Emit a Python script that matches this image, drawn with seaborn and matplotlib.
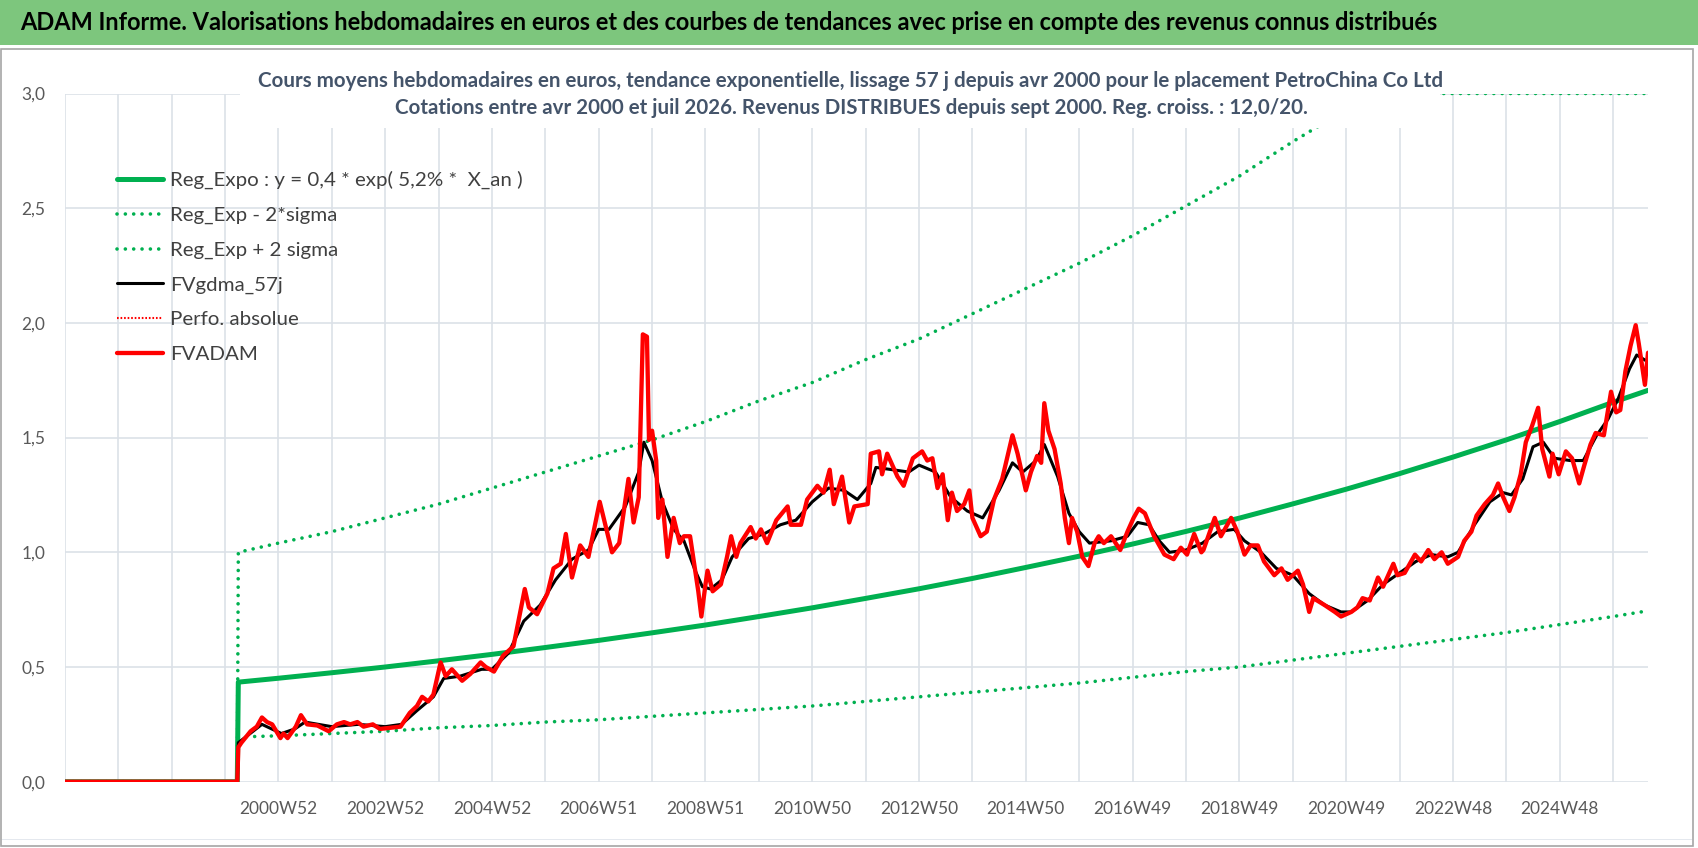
import matplotlib
matplotlib.use("Agg")
import matplotlib.pyplot as plt
from matplotlib.patches import Rectangle
import seaborn as sns

# semaines comptées depuis le début de l'axe (1997W01 = 0)
semaines_fv = [0, 168, 169, 172, 181, 187, 192, 197, 202, 210, 213, 217, 225, 230, 236, 246, 257, 265, 272, 278,
               285, 291, 300, 307, 317, 327, 336, 343, 348, 354, 359, 366, 371, 377, 387, 395, 405, 410, 418, 427,
               437, 444, 448, 452, 460, 470, 476, 483, 488, 494, 502, 510, 521, 527, 533, 540, 549, 554, 559, 563,
               567, 569, 572, 576, 578, 582, 587, 593, 599, 603, 609, 613, 617, 620, 624, 626, 631, 639, 645, 649,
               654, 658, 668, 673, 678, 684, 693, 704, 707, 717, 723, 733, 739, 745, 749, 757, 764, 769, 782, 785,
               793, 796, 801, 811, 817, 826, 835, 840, 845, 850, 855, 860, 864, 869, 876, 881, 884, 892, 898, 905,
               913, 923, 928, 936, 941, 947, 951, 954, 958, 964, 970, 974, 978, 981, 986, 991, 997, 1003, 1007, 1012,
               1019, 1028, 1035, 1041, 1046, 1052, 1061, 1071, 1080, 1087, 1093, 1100, 1107, 1109, 1120, 1126, 1136,
               1142, 1149, 1155, 1162, 1168, 1178, 1185, 1191, 1201, 1206, 1212, 1216, 1227, 1237, 1243, 1253, 1259,
               1264, 1271, 1279, 1284, 1294, 1298, 1305, 1315, 1321, 1328, 1334, 1341, 1347, 1357, 1363, 1370, 1375,
               1383, 1391, 1396, 1401, 1407, 1412, 1418, 1423, 1429, 1435, 1439, 1446, 1449, 1455, 1462, 1468, 1475,
               1480, 1486, 1491, 1499, 1506, 1511, 1515, 1520, 1525, 1530, 1533, 1539, 1542]
fvadam = [0, 0, 0.15, 0.17, 0.22, 0.24, 0.28, 0.26, 0.25, 0.19, 0.21, 0.19, 0.24, 0.29, 0.25, 0.245, 0.22, 0.25, 0.26, 0.25,
          0.26, 0.24, 0.25, 0.23, 0.235, 0.24, 0.30, 0.33, 0.37, 0.35, 0.38, 0.52, 0.46, 0.49, 0.44, 0.47, 0.52, 0.50, 0.48, 0.55,
          0.59, 0.75, 0.84, 0.76, 0.73, 0.82, 0.93, 0.95, 1.08, 0.89, 1.03, 0.98, 1.22, 1.11, 1.00, 1.04, 1.32, 1.13, 1.24, 1.95,
          1.94, 1.49, 1.53, 1.40, 1.15, 1.23, 0.98, 1.15, 1.04, 1.07, 1.07, 0.95, 0.83, 0.72, 0.86, 0.92, 0.83, 0.86, 0.98, 1.07,
          0.98, 1.04, 1.11, 1.06, 1.10, 1.04, 1.14, 1.20, 1.12, 1.12, 1.23, 1.29, 1.26, 1.36, 1.21, 1.33, 1.13, 1.20, 1.21, 1.43,
          1.44, 1.34, 1.43, 1.33, 1.29, 1.41, 1.44, 1.40, 1.41, 1.28, 1.34, 1.14, 1.26, 1.18, 1.21, 1.27, 1.15, 1.07, 1.09, 1.23,
          1.32, 1.51, 1.43, 1.27, 1.35, 1.42, 1.39, 1.65, 1.53, 1.45, 1.30, 1.15, 1.04, 1.15, 1.09, 0.98, 0.94, 1.04, 1.07, 1.04,
          1.07, 1.01, 1.09, 1.15, 1.19, 1.17, 1.07, 0.99, 0.97, 1.02, 0.99, 1.08, 1.00, 1.01, 1.15, 1.07, 1.15,
          1.09, 0.99, 1.03, 1.03, 0.96, 0.90, 0.93, 0.88, 0.92, 0.86, 0.74, 0.80, 0.77, 0.74, 0.72, 0.74, 0.76,
          0.80, 0.79, 0.89, 0.85, 0.95, 0.90, 0.91, 0.99, 0.96, 1.01, 0.97, 1.00, 0.95, 0.98, 1.05, 1.09, 1.16,
          1.21, 1.25, 1.30, 1.24, 1.18, 1.24, 1.34, 1.48, 1.55, 1.63, 1.45, 1.33, 1.43, 1.34, 1.44, 1.41, 1.30,
          1.38, 1.47, 1.52, 1.51, 1.70, 1.61, 1.62, 1.79, 1.90, 1.99, 1.91, 1.73, 1.87]

semaines_gdma = [0, 168, 169, 192, 211, 224, 234, 260, 286, 312, 328, 343, 359, 369, 385, 406, 416, 432, 447, 463,
                 478, 494, 510, 520, 530, 546, 559, 564, 572, 582, 593, 603, 614, 621, 629, 640, 650, 666, 681, 697,
                 712, 728, 744, 759, 772, 785, 790, 806, 822, 832, 848, 863, 879, 894, 910, 923, 933, 946, 954, 967,
                 978, 988, 998, 1019, 1035, 1045, 1056, 1066, 1076, 1092, 1108, 1123, 1139, 1149, 1165, 1180, 1196,
                 1212, 1227, 1243, 1253, 1269, 1284, 1300, 1316, 1331, 1347, 1357, 1373, 1388, 1401, 1409, 1420, 1430,
                 1440, 1451, 1466, 1479, 1492, 1503, 1513, 1524, 1531, 1542]
fvgdma = [0, 0, 0.17, 0.25, 0.21, 0.23, 0.26, 0.24, 0.25, 0.24, 0.25, 0.31, 0.37, 0.45, 0.46, 0.49, 0.49, 0.56, 0.70, 0.77,
          0.88, 0.97, 1.01, 1.10, 1.10, 1.20, 1.35, 1.48, 1.40, 1.22, 1.10, 1.05, 0.92, 0.85, 0.84, 0.88, 0.98, 1.06, 1.08, 1.12,
          1.14, 1.22, 1.28, 1.27, 1.23, 1.30, 1.37, 1.36, 1.35, 1.38, 1.35, 1.24, 1.18, 1.15, 1.27, 1.39, 1.35, 1.40, 1.47, 1.33,
          1.17, 1.09, 1.04, 1.05, 1.07, 1.13, 1.12, 1.05, 1.00, 1.01, 1.04, 1.09, 1.10, 1.05, 1.00, 0.93, 0.90,
          0.82, 0.77, 0.74, 0.74, 0.79, 0.86, 0.91, 0.96, 0.99, 0.98, 1.00, 1.12, 1.22, 1.26, 1.25, 1.32, 1.46,
          1.48, 1.41, 1.40, 1.40, 1.51, 1.58, 1.67, 1.80, 1.86, 1.83]

semaines_reg = [0, 168, 169, 208, 260, 312, 364, 416, 468, 520, 572, 624, 676, 728, 780, 832, 884, 936, 988, 1040,
                1092, 1144, 1196, 1248, 1300, 1352, 1404, 1456, 1508, 1542]
reg_expo = [0, 0, 0.434, 0.451, 0.475, 0.500, 0.527, 0.555, 0.585, 0.616, 0.649, 0.683, 0.720, 0.758, 0.799, 0.841,
            0.886, 0.934, 0.983, 1.036, 1.091, 1.149, 1.211, 1.275, 1.343, 1.415, 1.490, 1.570, 1.654, 1.706]
reg_moins = [0, 0, 0.195, 0.200, 0.210, 0.220, 0.235, 0.245, 0.260, 0.270, 0.285, 0.300, 0.315, 0.330, 0.350, 0.370,
             0.390, 0.410, 0.430, 0.455, 0.480, 0.500, 0.530, 0.560, 0.590, 0.620, 0.650, 0.685, 0.720, 0.745]
reg_plus = [0, 0, 1.00, 1.04, 1.09, 1.15, 1.21, 1.28, 1.35, 1.42, 1.49, 1.57, 1.66, 1.74, 1.84, 1.93,
            2.04, 2.15, 2.26, 2.38, 2.51, 2.64, 2.79, 2.93, 3.0, 3.0, 3.0, 3.0, 3.0, 3.0]

x_labels = ["2000W52", "2002W52", "2004W52", "2006W51", "2008W51", "2010W50", "2012W50",
            "2014W50", "2016W49", "2018W49", "2020W49", "2022W48", "2024W48"]
y_labels = ["0,0", "0,5", "1,0", "1,5", "2,0", "2,5", "3,0"]

titre = ("ADAM Informe. Valorisations hebdomadaires en euros et des courbes de tendances "
         "avec prise en compte des revenus connus distribués")
sous_titre_1 = ("Cours moyens hebdomadaires en euros, tendance exponentielle, lissage 57 j depuis avr 2000 "
                "pour le placement PetroChina Co Ltd")
sous_titre_2 = "Cotations entre avr 2000 et juil 2026. Revenus DISTRIBUES depuis sept 2000. Reg. croiss. : 12,0/20."

VERT = "#00B050"
ROUGE = "#FF0000"
GRIS = "#595959"
GRILLE = "#DCE1E8"
POINTS = (0, (0.01, 2.3))

sns.set_theme(style="white")
plt.rcParams["font.family"] = ["Lato", "DejaVu Sans"]

W, H = 1698, 848
fig = plt.figure(figsize=(W / 100, H / 100), dpi=100)
renderer = fig.canvas.get_renderer()


def ajuste(txt, largeur):
    # ramène la largeur du texte à celle mesurée sur l'original
    bb = txt.get_window_extent(renderer)
    txt.set_fontsize(txt.get_fontsize() * largeur / bb.width)


# bandeau vert + cadre du graphique
fig.patches.append(Rectangle((0, 1 - 45 / H), 1, 45 / H, transform=fig.transFigure,
                             facecolor="#7DC67D", edgecolor="none", zorder=0))
fig.patches.append(Rectangle((1 / W, 2 / H), 1692 / W, (846 - 49) / H, transform=fig.transFigure,
                             fill=False, edgecolor="#A6A6A6", lw=1.2, zorder=0))
fig.patches.append(Rectangle((2 / W, 8 / H), 1690 / W, 1 / H, transform=fig.transFigure,
                             facecolor="#E4E8EE", edgecolor="none", zorder=0))
t = fig.text(20 / W, 1 - 23 / H, titre, fontsize=18, fontweight="bold", color="black", va="center", ha="left")
ajuste(t, 1422)

ax = fig.add_axes([64.8 / W, 66.3 / H, (1648 - 64.8) / W, (781.7 - 93.5) / H])

sns.lineplot(x=semaines_reg, y=reg_expo, ax=ax, color=VERT, lw=3.6, estimator=None, sort=False,
             label="Reg_Expo : y = 0,4 * exp( 5,2% *  X_an )")
sns.lineplot(x=semaines_reg, y=reg_moins, ax=ax, color=VERT, lw=2.6, ls=POINTS, dash_capstyle="round",
             estimator=None, sort=False, label="Reg_Exp - 2*sigma")
sns.lineplot(x=semaines_reg, y=reg_plus, ax=ax, color=VERT, lw=2.6, ls=POINTS, dash_capstyle="round",
             estimator=None, sort=False, label="Reg_Exp + 2 sigma")
sns.lineplot(x=semaines_gdma, y=fvgdma, ax=ax, color="black", lw=2.2, estimator=None, sort=False,
             label="FVgdma_57j")
ax.plot([], [], color=ROUGE, lw=1.5, ls=(0, (0.8, 0.9)), label="Perfo. absolue")
sns.lineplot(x=semaines_fv, y=fvadam, ax=ax, color=ROUGE, lw=3.1, estimator=None, sort=False,
             label="FVADAM")

ax.set_xlim(0, 1542)
ax.set_ylim(0, 3.0)
ax.set_xticks([208 + 104 * i for i in range(len(x_labels))])
ax.set_xticklabels(x_labels)
ax.set_xticks(range(0, 1543, 52), minor=True)
ax.set_yticks([0.5 * i for i in range(len(y_labels))])
ax.set_yticklabels(y_labels)
ax.tick_params(axis="y", length=0, colors=GRIS, labelsize=12.5, pad=14)
ax.tick_params(axis="x", which="both", length=5, width=1.2, color=GRILLE, direction="out",
               labelcolor=GRIS, labelsize=12.5, pad=9)
ax.grid(axis="x", which="both", color=GRILLE, lw=1.2)
ax.grid(axis="y", which="major", color=GRILLE, lw=1.2)
ax.set_axisbelow(True)
for s in ax.spines.values():
    s.set_visible(False)
ax.set_xlabel("")
ax.set_ylabel("")

# taille de la légende calée sur la largeur du premier libellé
essai = fig.text(0, 0, "Reg_Expo : y = 0,4 * exp( 5,2% *  X_an )", fontsize=14)
ajuste(essai, 354)
taille_leg = essai.get_fontsize()
essai.remove()

leg = ax.legend(loc="upper left", bbox_to_anchor=(117 / W, 1 - 171 / H), bbox_transform=fig.transFigure,
                frameon=False, fontsize=taille_leg, borderpad=0, handlelength=46 / (taille_leg * 1.389),
                handletextpad=7 / (taille_leg * 1.389), labelspacing=0.84, borderaxespad=0)
for t in leg.get_texts():
    t.set_color("#404040")

# encadré blanc du sous-titre par-dessus le graphique
fig.patches.append(Rectangle((240 / W, 1 - 128 / H), 1200 / W, 66 / H, transform=fig.transFigure,
                             facecolor="white", edgecolor="none", zorder=3))
t1 = fig.text(851 / W, 1 - 81 / H, sous_titre_1, fontsize=15, fontweight="bold", color="#44546A",
              ha="center", va="center", zorder=4)
ajuste(t1, 1190)
t2 = fig.text(851 / W, 1 - 108 / H, sous_titre_2, fontsize=t1.get_fontsize(), fontweight="bold",
              color="#44546A", ha="center", va="center", zorder=4)

fig.savefig("out.png", dpi=100, facecolor="white")
